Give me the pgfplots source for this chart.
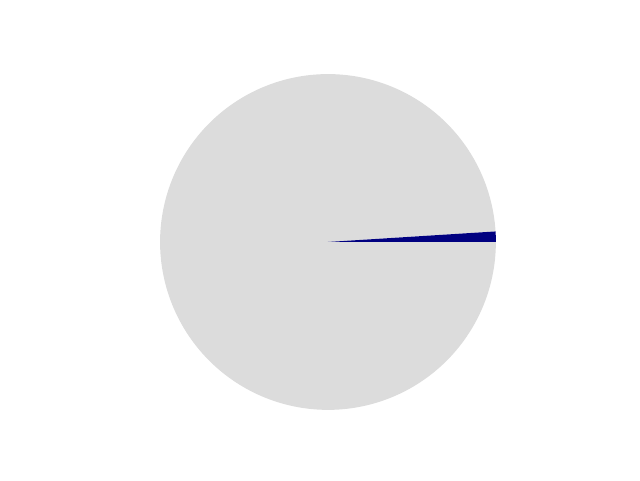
\documentclass[border=0pt]{standalone}
\usepackage{pgfplots}
\pgfplotsset{compat=1.18}
\definecolor{navyc}{RGB}{0,0,128}
\definecolor{gainsboro}{RGB}{220,220,220}
% pie shares (percent)
\def\shareA{1}
\def\shareB{99}
\pgfmathsetmacro\angA{360*\shareA/(\shareA+\shareB)}
\begin{document}
\begin{tikzpicture}
\begin{axis}[
  width=640bp, height=480bp, scale only axis,
  xmin=-1.952, xmax=1.857, ymin=-1.417, ymax=1.440,
  axis line style={white}, ticks=none, clip=false,
]
\addplot[fill=gainsboro, draw=none, domain=\angA:360, samples=240]
  ({cos(x)},{sin(x)}) -- (axis cs:0,0) -- cycle;
\addplot[fill=navyc, draw=none, domain=0:\angA, samples=12]
  ({cos(x)},{sin(x)}) -- (axis cs:0,0) -- cycle;
\end{axis}
\end{tikzpicture}
\end{document}
